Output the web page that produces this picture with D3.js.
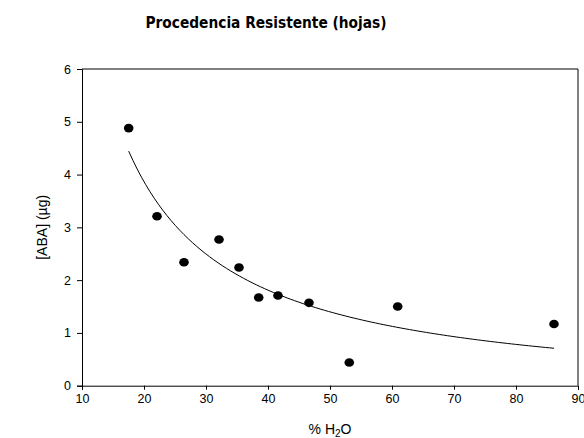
<!DOCTYPE html>
<html>
<head>
<meta charset="utf-8">
<script src="https://cdn.jsdelivr.net/npm/d3@7"></script>
<style>
  html, body { margin: 0; padding: 0; background: #fff; }
  svg { display: block; }
</style>
</head>
<body>
<svg id="chart" width="584" height="438"></svg>
<script>
// Leaf ABA content against water percentage
const waterPct = [17.53, 22.10, 26.45, 32.10, 35.32, 38.50, 41.61, 46.61, 53.11, 60.92, 86.13];
const abaUg    = [4.88, 3.21, 2.34, 2.77, 2.24, 1.67, 1.71, 1.57, 0.44, 1.50, 1.17];

// Hyperbolic regression y = y0 + a / x
const fitY0 = -0.245;
const fitA = 82.2;

const xTicks = [10, 20, 30, 40, 50, 60, 70, 80, 90];
const yTicks = [0, 1, 2, 3, 4, 5, 6];

const svg = d3.select("#chart");
const plotL = 82, plotR = 578, plotT = 69, plotB = 385.7;

const x = d3.scaleLinear().domain([10, 90]).range([plotL, plotR]);
const y = d3.scaleLinear().domain([0, 6]).range([plotB, plotT]);

const axisFont = "'Liberation Sans', Arial, sans-serif";

// frame (top & right)
svg.append("path")
  .attr("d", `M${plotL},${plotT}H${plotR}V${plotB}`)
  .attr("fill", "none").attr("stroke", "#000").attr("stroke-width", 1);

const gx = svg.append("g").attr("transform", `translate(0,${plotB})`)
  .call(d3.axisBottom(x).tickValues(xTicks).tickSize(4).tickPadding(4).tickFormat(d3.format("d")));
const gy = svg.append("g").attr("transform", `translate(${plotL},0)`)
  .call(d3.axisLeft(y).tickValues(yTicks).tickSize(5).tickPadding(6).tickFormat(d3.format("d")));

[gx, gy].forEach(g => {
  g.select(".domain").attr("stroke", "#000");
  g.selectAll(".tick line").attr("stroke", "#000");
  g.selectAll(".tick text").attr("fill", "#000")
    .style("font-family", axisFont).style("font-size", "12.5px");
});

// fitted curve over the data range
const xs = d3.range(0, 101).map(i => d3.min(waterPct) + (d3.max(waterPct) - d3.min(waterPct)) * i / 100);
svg.append("path")
  .datum(xs)
  .attr("fill", "none").attr("stroke", "#000").attr("stroke-width", 1)
  .attr("d", d3.line().x(d => x(d)).y(d => y(fitY0 + fitA / d)));

// observations
svg.append("g").selectAll("ellipse")
  .data(waterPct.map((v, i) => [v, abaUg[i]]))
  .join("ellipse")
  .attr("cx", d => x(d[0])).attr("cy", d => y(d[1]))
  .attr("rx", 4.8).attr("ry", 4.3)
  .attr("fill", "#000");

// title
svg.append("text")
  .attr("x", 266).attr("y", 28)
  .attr("text-anchor", "middle")
  .style("font-family", "'DejaVu Sans', Verdana, sans-serif")
  .style("font-weight", "bold").style("font-size", "15px")
  .attr("textLength", 241).attr("lengthAdjust", "spacingAndGlyphs")
  .text("Procedencia Resistente (hojas)");

// x-axis title with subscript
const xt = svg.append("text")
  .attr("x", 330).attr("y", 434)
  .attr("text-anchor", "middle")
  .style("font-family", axisFont).style("font-size", "14px");
xt.append("tspan").text("% H");
xt.append("tspan").attr("dy", 3).style("font-size", "10px").text("2");
xt.append("tspan").attr("dy", -3).text("O");

// y-axis title
svg.append("text")
  .attr("transform", `translate(47,${(plotT + plotB) / 2}) rotate(-90)`)
  .attr("text-anchor", "middle")
  .style("font-family", axisFont).style("font-size", "14px")
  .text("[ABA] (µg)");
</script>
</body>
</html>
